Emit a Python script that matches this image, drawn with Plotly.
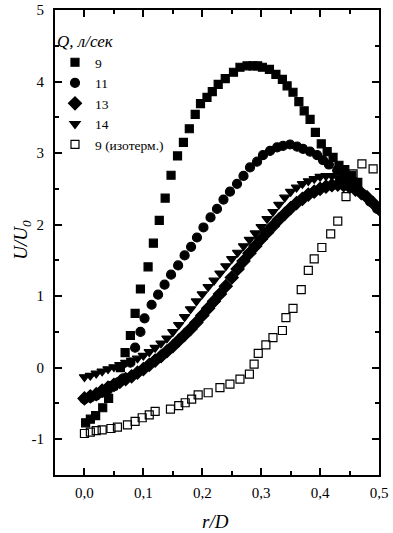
import plotly.graph_objects as go

# Q = 9 л/сек (filled squares)
x9 = [0.002, 0.010, 0.019, 0.031, 0.041, 0.049, 0.061, 0.069, 0.078, 0.086, 0.095, 0.108, 0.117, 0.127, 0.137,
      0.147, 0.158, 0.168, 0.178, 0.188, 0.197, 0.208, 0.217, 0.227, 0.239, 0.253, 0.264, 0.276, 0.286, 0.294,
      0.302, 0.314, 0.325, 0.336, 0.344, 0.354, 0.364, 0.373, 0.383, 0.392, 0.402, 0.412, 0.422, 0.432, 0.442,
      0.454, 0.464]
y9 = [-0.77, -0.72, -0.67, -0.56, -0.43, -0.25, 0.00, 0.21, 0.45, 0.76, 1.10, 1.41, 1.74, 2.06, 2.37,
      2.69, 2.96, 3.15, 3.34, 3.54, 3.69, 3.78, 3.86, 3.96, 4.04, 4.13, 4.20, 4.22, 4.22, 4.22,
      4.20, 4.17, 4.10, 4.03, 3.94, 3.85, 3.72, 3.59, 3.47, 3.29, 3.13, 3.02, 2.94, 2.83, 2.77,
      2.69, 2.59]

# Q = 11 л/сек (circles)
x11 = [0.000, 0.010, 0.020, 0.030, 0.040, 0.050, 0.058, 0.066, 0.078, 0.086, 0.095, 0.102, 0.114, 0.125, 0.136,
       0.147, 0.159, 0.170, 0.181, 0.191, 0.202, 0.214, 0.225, 0.236, 0.247, 0.259, 0.270, 0.281, 0.293, 0.303,
       0.315, 0.327, 0.337, 0.349, 0.361, 0.371, 0.383, 0.395, 0.405, 0.415, 0.429, 0.440, 0.452, 0.463, 0.474,
       0.485, 0.497]
y11 = [-0.44, -0.42, -0.39, -0.35, -0.31, -0.26, -0.20, -0.15, 0.07, 0.28, 0.50, 0.69, 0.88, 1.02, 1.16,
       1.30, 1.43, 1.57, 1.69, 1.82, 1.96, 2.10, 2.22, 2.35, 2.46, 2.57, 2.68, 2.80, 2.88, 2.97,
       3.03, 3.08, 3.10, 3.12, 3.09, 3.06, 3.02, 2.97, 2.90, 2.84, 2.76, 2.68, 2.60, 2.50, 2.42,
       2.32, 2.22]

# Q = 13 л/сек (diamonds)
x13 = [0.000, 0.010, 0.020, 0.030, 0.040, 0.050, 0.060, 0.070, 0.080, 0.090, 0.100, 0.110, 0.120, 0.130, 0.140,
       0.150, 0.160, 0.170, 0.180, 0.190, 0.200, 0.210, 0.220, 0.230, 0.240, 0.250, 0.260, 0.270, 0.280, 0.290,
       0.300, 0.310, 0.320, 0.330, 0.340, 0.350, 0.360, 0.370, 0.380, 0.390, 0.400, 0.410, 0.420, 0.430, 0.440,
       0.450, 0.460, 0.470, 0.480, 0.490, 0.500]
y13 = [-0.43, -0.40, -0.37, -0.32, -0.28, -0.24, -0.20, -0.16, -0.12, -0.07, -0.02, 0.04, 0.10, 0.16, 0.23,
       0.30, 0.38, 0.46, 0.54, 0.63, 0.73, 0.83, 0.93, 1.03, 1.14, 1.26, 1.38, 1.49, 1.60, 1.70,
       1.80, 1.89, 1.98, 2.07, 2.15, 2.23, 2.30, 2.36, 2.42, 2.46, 2.50, 2.53, 2.55, 2.56, 2.55,
       2.53, 2.49, 2.44, 2.38, 2.30, 2.22]

# Q = 14 л/сек (down triangles)
x14 = [0.000, 0.010, 0.020, 0.030, 0.040, 0.050, 0.060, 0.070, 0.080, 0.090, 0.100, 0.110, 0.120, 0.130, 0.140,
       0.150, 0.160, 0.170, 0.180, 0.190, 0.200, 0.210, 0.220, 0.230, 0.240, 0.250, 0.260, 0.270, 0.280, 0.290,
       0.300, 0.310, 0.320, 0.330, 0.340, 0.350, 0.360, 0.370, 0.380, 0.390, 0.400, 0.410, 0.420, 0.430, 0.440]
y14 = [-0.13, -0.11, -0.08, -0.05, -0.02, 0.01, 0.04, 0.07, 0.10, 0.13, 0.17, 0.22, 0.28, 0.34, 0.41,
       0.50, 0.60, 0.71, 0.82, 0.93, 1.03, 1.13, 1.22, 1.32, 1.42, 1.52, 1.61, 1.70, 1.79, 1.88,
       1.97, 2.08, 2.18, 2.28, 2.38, 2.46, 2.52, 2.57, 2.61, 2.64, 2.67, 2.68, 2.68, 2.66, 2.62]

# Q = 9 л/сек, isothermal (open squares)
x9i = [0.000, 0.010, 0.020, 0.030, 0.045, 0.056, 0.073, 0.086, 0.098, 0.110, 0.120, 0.146, 0.160, 0.171, 0.182,
       0.193, 0.210, 0.230, 0.247, 0.264, 0.280, 0.288, 0.295, 0.308, 0.320, 0.336, 0.342, 0.354, 0.368, 0.380,
       0.390, 0.403, 0.418, 0.430, 0.444, 0.456, 0.471, 0.490]
y9i = [-0.92, -0.90, -0.88, -0.87, -0.85, -0.83, -0.80, -0.75, -0.70, -0.66, -0.61, -0.58, -0.53, -0.49, -0.44,
       -0.38, -0.35, -0.28, -0.23, -0.16, -0.09, 0.05, 0.20, 0.32, 0.42, 0.52, 0.70, 0.83, 1.09, 1.36,
       1.52, 1.68, 1.87, 2.05, 2.39, 2.71, 2.85, 2.78]

series_names = ["9", "11", "13", "14", "9 (изотерм.)"]
x_tickvals = [0, 0.1, 0.2, 0.3, 0.4, 0.5]
y_tickvals = [-1, 0, 1, 2, 3, 4, 5]
y_ticktext = ["-1", "0", "1", "2", "3", "4", "5"]

FONT = "Liberation Serif"
fig = go.Figure()
specs = [
    (x9, y9, "square", 8),
    (x11, y11, "circle", 9),
    (x13, y13, "diamond", 10),
    (x14, y14, "triangle-down", 9),
    (x9i, y9i, "square-open", 8),
]
for (xs, ys, sym, sz), name in zip(specs, series_names):
    fig.add_trace(go.Scatter(
        x=xs, y=ys, mode="markers", name=name,
        marker=dict(symbol=sym, size=sz, color="black", line=dict(width=1.2, color="black")),
    ))

axis_common = dict(
    showline=True, linecolor="black", linewidth=2, mirror="ticks",
    ticks="inside", ticklen=7, tickwidth=2, tickcolor="black",
    showgrid=False, zeroline=False, automargin=False,
    tickfont=dict(family=FONT, size=15, color="black"),
)

fig.update_layout(
    template="none",
    width=393, height=533,
    margin=dict(l=55, r=14, t=10, b=58, autoexpand=False),
    paper_bgcolor="white", plot_bgcolor="white",
    separators=", ",
    font=dict(family=FONT, color="black"),
    xaxis=dict(range=[-0.05, 0.5], tickvals=x_tickvals, tickformat=".1f", ticklabelstandoff=3,
               minor=dict(ticks="inside", ticklen=4, tickwidth=1.5, tickcolor="black", dtick=0.05, tick0=0),
               **axis_common),
    yaxis=dict(range=[-1.5, 5], tickvals=y_tickvals, ticktext=y_ticktext, ticklabelstandoff=6,
               minor=dict(ticks="inside", ticklen=4, tickwidth=1.5, tickcolor="black", dtick=0.5, tick0=0),
               **axis_common),
    legend=dict(
        x=0.0, y=0.968, xanchor="left", yanchor="top",
        bgcolor="rgba(0,0,0,0)",
        font=dict(family=FONT, size=13.5, color="black"),
        title=dict(text="<i>Q, л/сек</i>", font=dict(family=FONT, size=17, color="black")),
        tracegroupgap=0, itemwidth=30,
    ),
    annotations=[
        dict(text="<i>r/D</i>", xref="paper", yref="paper", x=0.494, y=-0.101,
             xanchor="center", yanchor="middle", showarrow=False,
             font=dict(family=FONT, size=19, color="black")),
        dict(text="<i>U/U</i><sub><i>0</i></sub>", xref="paper", yref="paper", x=-0.10, y=0.505,
             xanchor="center", yanchor="middle", showarrow=False, textangle=-90,
             font=dict(family=FONT, size=19, color="black")),
    ],
)

# remove the default 8px page margin so the figure sits at the window's top-left corner
fig.write_html("out.html", config={"displayModeBar": False},
               post_script="document.body.style.margin='0';")
